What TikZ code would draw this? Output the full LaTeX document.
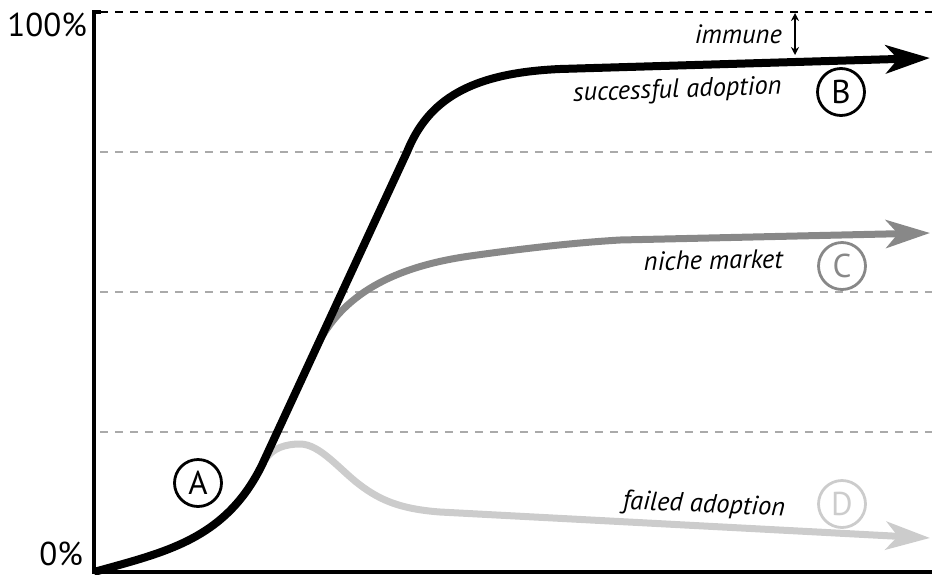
\documentclass[tikz,border=0pt]{standalone}
\usepackage{fontspec}
\setmainfont{PT Sans}
\usetikzlibrary{arrows.meta}
\definecolor{colC}{RGB}{136,136,136}
\definecolor{colD}{RGB}{204,204,204}
\definecolor{gridc}{RGB}{170,170,170}
\begin{document}
\begin{tikzpicture}[x=1pt,y=-1pt,
  gridline/.style={dash pattern=on 8pt off 7pt, line width=1.5pt, gridc},
  topline/.style={dash pattern=on 8pt off 7pt, line width=1.8pt, black},
  axis/.style={line width=4pt, black, line join=miter},
  curveB/.style={line width=8pt, black, line join=round},
  curveC/.style={line width=7pt, colC, line join=round},
  curveD/.style={line width=7pt, colD, line join=round},
  bigtip/.style={-{Stealth[length=44pt,width=28pt,inset=12pt]}},
  letter/.style={circle, draw, line width=2.8pt, minimum size=47pt, inner sep=0pt, font=\fontsize{33}{33}\selectfont},
  lab/.style={font=\fontsize{26.5}{26.5}\selectfont\itshape, anchor=base east, inner sep=0pt},
  pct/.style={font=\fontsize{33}{33}\selectfont, anchor=base east, inner sep=0pt}]
\useasboundingbox (0,0) rectangle (932,574);
% grid
\coordinate (t0) at (100,12); \coordinate (t1) at (932,12);
\coordinate (g1a) at (100,152); \coordinate (g1b) at (932,152);
\coordinate (g2a) at (100,292); \coordinate (g2b) at (932,292);
\coordinate (g3a) at (100,432); \coordinate (g3b) at (932,432);
\draw[topline] (t0) -- (t1);
\draw[gridline] (g1a) -- (g1b);
\draw[gridline] (g2a) -- (g2b);
\draw[gridline] (g3a) -- (g3b);
% axes
\coordinate (ytick) at (101,12);
\coordinate (o) at (94,572);
\coordinate (xend) at (932,572);
\draw[axis] (ytick) -| (o) -- (xend);
% labels
\node[pct] (p100) at (87,36) {100\%};
\node[pct] (p0) at (83,565) {0\%};
% curves
\coordinate (Bend) at (930,58);
\coordinate (Cstart) at (315,350);
\coordinate (Cend) at (930,233);
\coordinate (Dstart) at (265,460);
\coordinate (Dend) at (930,538);
\draw[curveD, bigtip] (Dstart) .. controls (272,448) and (286,444) .. (300,444)
  .. controls (320,444) and (340,470) .. (360,485)
  .. controls (380,500) and (400,509) .. (440,512) -- (Dend);
\draw[curveC, bigtip] (Cstart) .. controls (338,300) and (385,268) .. (470,256)
  .. controls (520,249) and (570,243) .. (620,240) -- (Cend);
\draw[curveB, bigtip] (o) .. controls (165,552) and (225,540) .. (262,465) -- (407,152)
  .. controls (428,100) and (470,73) .. (560,69) -- (Bend);
% immune
\coordinate (imtop) at (795,13);
\coordinate (imbot) at (795,55);
\draw[line width=1.8pt, {Stealth[length=8pt,width=8pt]}-{Stealth[length=8pt,width=8pt]}] (imtop) -- (imbot);
\node[lab] (immune) at (782,43) {immune};
\node[lab, rotate=2] (succ) at (782,94) {successful adoption};
\node[lab, rotate=1] (niche) at (783,268) {niche market};
\node[lab, rotate=-2.5] (fail) at (785,516) {failed adoption};
% circles
\node[letter] (A) at (198,483) {A};
\node[letter] (B) at (841,92) {B};
\node[letter, colC] (C) at (842,266) {C};
\node[letter, colD] (D) at (842,504) {D};
\end{tikzpicture}
\end{document}
